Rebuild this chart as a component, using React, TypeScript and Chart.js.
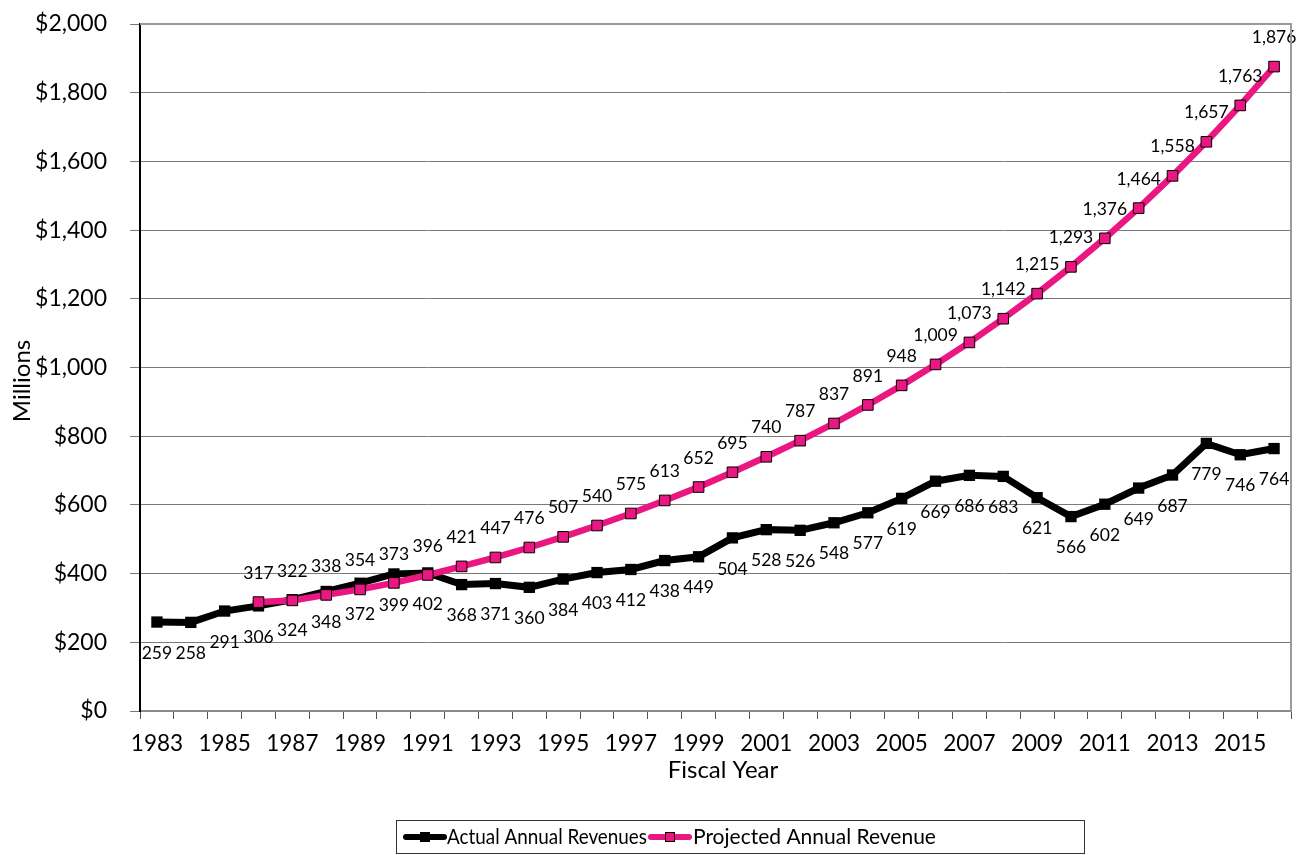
import { useEffect, useRef } from 'react';
import { Chart, registerables } from 'chart.js';

Chart.register(...registerables);

const years = [
  '1983', '1984', '1985', '1986', '1987', '1988', '1989', '1990', '1991', '1992',
  '1993', '1994', '1995', '1996', '1997', '1998', '1999', '2000', '2001', '2002',
  '2003', '2004', '2005', '2006', '2007', '2008', '2009', '2010', '2011', '2012',
  '2013', '2014', '2015', '2016',
];

const actualRevenues = [
  259, 258, 291, 306, 324, 348, 372, 399, 402, 368,
  371, 360, 384, 403, 412, 438, 449, 504, 528, 526,
  548, 577, 619, 669, 686, 683, 621, 566, 602, 649,
  687, 779, 746, 764,
];

const projectedRevenue = [
  null, null, null, 317, 322, 338, 354, 373, 396, 421,
  447, 476, 507, 540, 575, 613, 652, 695, 740, 787,
  837, 891, 948, 1009, 1073, 1142, 1215, 1293, 1376, 1464,
  1558, 1657, 1763, 1876,
];

const yMin = 0;
const yMax = 2000;
const yStep = 200;

const seriesNames = ['Actual Annual Revenues', 'Projected Annual Revenue'];

const PINK = '#EA1681';
const FONT = 'Lato, "Open Sans", sans-serif';

const decorPlugin = {
  id: 'decor',
  afterDatasetsDraw(chart: any) {
    const ctx = chart.ctx as CanvasRenderingContext2D;
    ctx.save();
    ctx.font = `17.5px ${FONT}`;
    ctx.fillStyle = '#000';
    ctx.textAlign = 'center';
    ctx.textBaseline = 'middle';
    chart.data.datasets.forEach((ds: any, di: number) => {
      const meta = chart.getDatasetMeta(di);
      meta.data.forEach((pt: any, i: number) => {
        const v = ds.data[i];
        if (v === null || v === undefined) return;
        const txt = Number(v).toLocaleString('en-US');
        if (di === 0) {
          ctx.fillText(txt, pt.x, pt.y + 31);
        } else {
          ctx.fillText(txt, pt.x, pt.y - 29);
        }
      });
    });
    ctx.restore();
  },
  afterDraw(chart: any) {
    const ctx = chart.ctx as CanvasRenderingContext2D;
    const a = chart.chartArea;
    ctx.save();
    // top & right border of plot
    ctx.strokeStyle = '#9a9a9a';
    ctx.lineWidth = 2;
    ctx.beginPath();
    ctx.moveTo(a.left, a.top);
    ctx.lineTo(a.right, a.top);
    ctx.lineTo(a.right, a.bottom);
    ctx.stroke();

    // axis titles
    ctx.fillStyle = '#000';
    ctx.font = `24px ${FONT}`;
    ctx.textAlign = 'center';
    ctx.textBaseline = 'middle';
    ctx.fillText('Fiscal Year', 723, 770);
    ctx.save();
    ctx.translate(22, 381);
    ctx.rotate(-Math.PI / 2);
    ctx.fillText('Millions', 0, 0);
    ctx.restore();

    // legend
    ctx.strokeStyle = '#333';
    ctx.lineWidth = 1;
    ctx.strokeRect(396.5, 820.5, 688, 33);
    const ly = 837;
    const drawSample = (x: number, color: string, border: boolean) => {
      ctx.strokeStyle = color;
      ctx.lineWidth = 6;
      ctx.lineCap = 'round';
      ctx.beginPath();
      ctx.moveTo(x + 3, ly);
      ctx.lineTo(x + 41, ly);
      ctx.stroke();
      ctx.fillStyle = color;
      ctx.fillRect(x + 17, ly - 5, 10, 10);
      if (border) {
        ctx.strokeStyle = '#000';
        ctx.lineWidth = 1;
        ctx.strokeRect(x + 17.5, ly - 4.5, 9, 9);
      }
    };
    drawSample(403, '#000', false);
    drawSample(648, PINK, true);
    ctx.fillStyle = '#000';
    ctx.font = `21px ${FONT}`;
    ctx.textAlign = 'left';
    ctx.textBaseline = 'middle';
    const drawFit = (txt: string, x: number, w: number) => {
      const m = ctx.measureText(txt).width;
      const s = Math.min(1, w / m);
      ctx.save();
      ctx.translate(x, ly);
      ctx.scale(s, 1);
      ctx.fillText(txt, 0, 0);
      ctx.restore();
    };
    drawFit(seriesNames[0], 447, 200);
    drawFit(seriesNames[1], 693, 386);
    ctx.restore();
  },
};

export default function App() {
  const ref = useRef<HTMLCanvasElement | null>(null);

  useEffect(() => {
    document.body.style.margin = '0';
    if (!ref.current) return;
    const chart = new Chart(ref.current, {
      type: 'line',
      data: {
        labels: years,
        datasets: [
          {
            label: seriesNames[0],
            data: actualRevenues,
            borderColor: '#000',
            backgroundColor: '#000',
            borderWidth: 7,
            pointStyle: 'rect',
            pointRadius: 8,
            pointBorderWidth: 0,
            pointBackgroundColor: '#000',
            tension: 0,
            order: 1,
          },
          {
            label: seriesNames[1],
            data: projectedRevenue,
            borderColor: PINK,
            backgroundColor: PINK,
            borderWidth: 6.5,
            pointStyle: 'rect',
            pointRadius: 7.5,
            pointBorderWidth: 1,
            pointBorderColor: '#000',
            pointBackgroundColor: PINK,
            tension: 0,
            spanGaps: false,
            order: 0,
          },
        ],
      },
      options: {
        responsive: false,
        animation: false,
        layout: { padding: { top: 24, right: 16, bottom: 0, left: 0 } },
        plugins: {
          legend: { display: false },
          title: { display: false },
          tooltip: { enabled: false },
        },
        scales: {
          x: {
            type: 'category',
            offset: true,
            grid: {
              offset: true,
              drawOnChartArea: false,
              drawTicks: true,
              tickLength: 8,
              color: '#555',
            },
            border: { color: '#8a8a8a', width: 2 },
            ticks: {
              autoSkip: false,
              maxRotation: 0,
              minRotation: 0,
              padding: 11,
              color: '#000',
              font: { family: FONT, size: 22.5 },
              callback: (_v: any, i: number) => (i % 2 === 0 ? years[i] : ''),
            },
            afterFit: (scale: any) => {
              scale.height = 144;
            },
          },
          y: {
            min: yMin,
            max: yMax,
            ticks: {
              stepSize: yStep,
              padding: 23,
              color: '#000',
              font: { family: FONT, size: 23 },
              callback: (v: any) => '$' + Number(v).toLocaleString('en-US'),
            },
            grid: {
              color: '#7a7a7a',
              lineWidth: 1,
              tickLength: 10,
            },
            border: { color: '#000', width: 2 },
            afterFit: (scale: any) => {
              scale.width = 140;
              scale.paddingTop = 0;
              scale.paddingBottom = 0;
            },
          },
        },
      },
      plugins: [decorPlugin],
    });
    return () => chart.destroy();
  }, []);

  return (
    <div style={{ width: 1307, height: 855 }}>
      <canvas ref={ref} width={1307} height={855} style={{ display: 'block' }} />
    </div>
  );
}
